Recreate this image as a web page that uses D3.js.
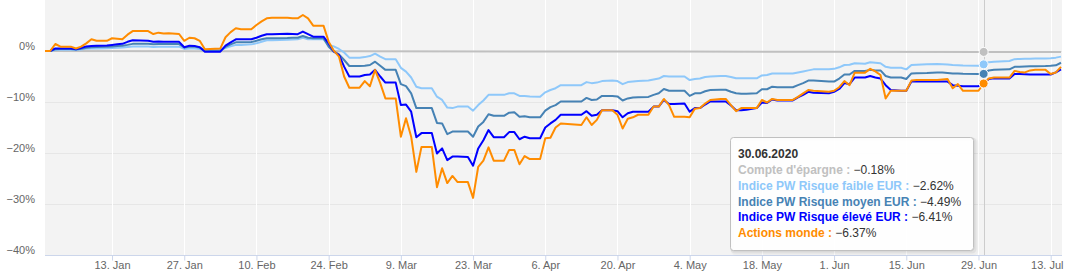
<!DOCTYPE html>
<html>
<head>
<meta charset="utf-8">
<script src="https://cdn.jsdelivr.net/npm/d3@7"></script>
<style>
  body { margin: 0; background: #fff; }
  svg { display: block; font-family: 'Lucida Sans Unicode', 'Lucida Grande', Arial, 'Liberation Sans', sans-serif; }
</style>
</head>
<body>
<svg id="chart" width="1065" height="276"></svg>
<script>
// Dates shared by the four index series (weekends repeat the previous value)
const dates = [
  '2019-12-31', '2020-01-01', '2020-01-02', '2020-01-03', '2020-01-05', '2020-01-06', '2020-01-07', '2020-01-08',
  '2020-01-09', '2020-01-10', '2020-01-12', '2020-01-13', '2020-01-14', '2020-01-15', '2020-01-16', '2020-01-17',
  '2020-01-20', '2020-01-21', '2020-01-22', '2020-01-23', '2020-01-24', '2020-01-26', '2020-01-27', '2020-01-28',
  '2020-01-29', '2020-01-30', '2020-01-31', '2020-02-03', '2020-02-04', '2020-02-05', '2020-02-06', '2020-02-07',
  '2020-02-09', '2020-02-10', '2020-02-11', '2020-02-12', '2020-02-13', '2020-02-16', '2020-02-17', '2020-02-18',
  '2020-02-19', '2020-02-20', '2020-02-21', '2020-02-23', '2020-02-24', '2020-02-25', '2020-02-26', '2020-02-27',
  '2020-02-28', '2020-03-01', '2020-03-02', '2020-03-03', '2020-03-04', '2020-03-05', '2020-03-06', '2020-03-08',
  '2020-03-09', '2020-03-10', '2020-03-11', '2020-03-12', '2020-03-13', '2020-03-15', '2020-03-16', '2020-03-17',
  '2020-03-18', '2020-03-19', '2020-03-20', '2020-03-22', '2020-03-23', '2020-03-24', '2020-03-25', '2020-03-26',
  '2020-03-27', '2020-03-29', '2020-03-30', '2020-03-31', '2020-04-01', '2020-04-02', '2020-04-03', '2020-04-05',
  '2020-04-06', '2020-04-07', '2020-04-08', '2020-04-09', '2020-04-13', '2020-04-14', '2020-04-15', '2020-04-16',
  '2020-04-17', '2020-04-19', '2020-04-20', '2020-04-21', '2020-04-22', '2020-04-23', '2020-04-24', '2020-04-26',
  '2020-04-27', '2020-04-28', '2020-04-29', '2020-04-30', '2020-05-01', '2020-05-03', '2020-05-04', '2020-05-05',
  '2020-05-06', '2020-05-07', '2020-05-08', '2020-05-10', '2020-05-11', '2020-05-12', '2020-05-13', '2020-05-14',
  '2020-05-15', '2020-05-17', '2020-05-18', '2020-05-19', '2020-05-20', '2020-05-21', '2020-05-22', '2020-05-24',
  '2020-05-25', '2020-05-26', '2020-05-27', '2020-05-28', '2020-05-31', '2020-06-01', '2020-06-02', '2020-06-03',
  '2020-06-04', '2020-06-05', '2020-06-07', '2020-06-08', '2020-06-09', '2020-06-10', '2020-06-11', '2020-06-12',
  '2020-06-14', '2020-06-15', '2020-06-16', '2020-06-17', '2020-06-19', '2020-06-21', '2020-06-22', '2020-06-23',
  '2020-06-24', '2020-06-25', '2020-06-26', '2020-06-29', '2020-06-30', '2020-07-01', '2020-07-02', '2020-07-05',
  '2020-07-06', '2020-07-07', '2020-07-08', '2020-07-09', '2020-07-10', '2020-07-12', '2020-07-13', '2020-07-14',
  '2020-07-15'
]

const risqueFaible = [
  0, 0, 0.2, 0.25, 0.25, 0.2, 0.3, 0.45,
  0.5, 0.5, 0.55, 0.6, 0.65, 0.7, 0.8, 0.9,
  0.9, 0.8, 0.85, 0.85, 0.85, 0.85, 0.4, 0.5,
  0.5, 0.4, 0.05, 0.05, 0.6, 0.9, 1.2, 1.2,
  1.3, 1.5, 1.8, 2.1, 2.1, 2.2, 2.25, 2.3,
  2.6, 2.3, 2.3, 2.3, 1.2, 0.9, 0.4, -0.3,
  -1.3, -1.3, -1.2, -1.0, -0.52, -1.1, -1.6, -1.6,
  -3.3, -4.05, -5.2, -7.0, -7.3, -7.3, -8.96, -9.6,
  -11.1, -11.2, -10.9, -10.9, -11.7, -10.6, -9.7, -8.6,
  -8.6, -8.6, -8.3, -8.3, -8.8, -8.8, -8.9, -8.96,
  -8.1, -7.65, -7.3, -6.7, -6.7, -6.1, -6.3, -6.2,
  -5.9, -5.8, -5.9, -6.5, -6.1, -6.0, -5.9, -5.8,
  -5.6, -5.4, -4.9, -5.0, -5.0, -5.0, -5.7, -5.5,
  -5.4, -5.1, -5.0, -4.9, -4.9, -5.1, -5.36, -5.36,
  -5.36, -5.36, -4.8, -4.7, -4.4, -4.4, -4.4, -4.4,
  -4.2, -4.0, -3.8, -3.6, -3.6, -3.5, -3.2, -2.75,
  -2.7, -2.4, -2.5, -2.2, -2.3, -2.4, -3.1, -3.3,
  -3.3, -3.6, -2.75, -2.7, -2.6, -2.55, -2.6, -2.65,
  -2.75, -2.8, -2.85, -2.9, -2.62, -2.2, -2.1, -1.95,
  -1.6, -1.55, -1.5, -1.5, -1.45, -1.45, -1.4, -1.3,
  -1.1
]

const risqueMoyen = [
  0, 0, 0.35, 0.4, 0.4, 0.3, 0.45, 0.65,
  0.75, 0.8, 0.85, 0.9, 1.0, 1.05, 1.2, 1.4,
  1.4, 1.3, 1.35, 1.35, 1.35, 1.35, 0.7, 0.85,
  0.85, 0.7, 0.1, 0.1, 0.8, 1.3, 1.7, 1.7,
  1.75, 2.0, 2.3, 2.5, 2.5, 2.55, 2.6, 2.6,
  2.94, 2.6, 2.5, 2.5, 0.85, -0.13, -0.65, -1.76,
  -2.94, -2.94, -2.9, -2.75, -2.1, -2.9, -3.7, -3.7,
  -6.5, -6.9, -8.3, -11.2, -11.2, -11.2, -14.1, -14.2,
  -16.3, -15.8, -15.8, -15.8, -16.8, -14.8, -13.9, -12.4,
  -12.7, -12.7, -12.1, -12.0, -12.9, -12.8, -13.0, -13.0,
  -11.7, -11.0, -10.6, -9.9, -9.9, -9.2, -9.6, -9.5,
  -8.8, -8.8, -8.9, -9.7, -9.3, -9.1, -9.05, -9.0,
  -8.6, -8.3, -7.45, -7.8, -7.8, -7.8, -8.8, -8.3,
  -8.3, -7.9, -7.65, -7.6, -7.6, -8.0, -8.3, -8.4,
  -8.4, -8.3, -7.5, -7.5, -7.0, -7.1, -7.1, -7.1,
  -6.7, -6.3, -5.8, -5.8, -6.0, -6.0, -5.4, -4.6,
  -4.6, -3.9, -3.9, -3.7, -3.8, -3.8, -4.9, -5.2,
  -5.2, -5.5, -4.4, -4.35, -4.3, -4.2, -4.2, -4.3,
  -4.4, -4.4, -4.45, -4.5, -4.49, -3.8, -3.7, -3.6,
  -3.1, -3.1, -3.05, -3.0, -3.0, -2.95, -2.9, -2.8,
  -2.3
]

const risqueEleve = [
  0, 0, 0.5, 0.5, 0.5, 0.33, 0.6, 0.9,
  1.0, 1.05, 1.1, 1.2, 1.3, 1.4, 1.8, 2.1,
  2.0, 1.8, 1.85, 1.8, 1.8, 1.8, 0.73, 1.05,
  1.0, 0.73, -0.13, -0.13, 1.05, 1.7, 2.3, 2.3,
  2.3, 2.6, 3.0, 3.3, 3.3, 3.4, 3.35, 3.3,
  3.8, 3.3, 2.8, 2.8, 1.5, -0.1, -0.78, -3.07,
  -5.0, -5.0, -4.7, -4.6, -3.7, -5.0, -6.2, -6.2,
  -10.6, -10.5, -11.9, -16.9, -16.1, -16.1, -20.1, -19.1,
  -21.4, -20.7, -20.7, -20.8, -22.5, -19.1, -17.5, -15.5,
  -16.9, -16.9, -15.9, -15.9, -17.3, -16.8, -17.1, -17.1,
  -15.0, -14.2, -13.5, -12.5, -12.5, -11.8, -12.7, -12.5,
  -11.6, -11.6, -11.8, -13.0, -12.2, -11.9, -11.9, -11.9,
  -10.9, -10.9, -9.6, -10.4, -10.4, -10.3, -11.9, -11.2,
  -11.2, -10.5, -9.9, -9.9, -9.9, -10.7, -11.6, -11.6,
  -11.5, -11.2, -10.1, -10.2, -9.5, -9.7, -9.7, -9.7,
  -9.1, -8.6, -8.0, -8.2, -8.3, -8.0, -7.45, -6.3,
  -6.5, -5.2, -5.2, -4.9, -5.2, -5.4, -6.7, -7.65,
  -7.8, -7.8, -6.0, -6.0, -6.0, -6.0, -6.0, -6.0,
  -6.7, -6.8, -6.9, -6.9, -6.41, -5.5, -5.36, -5.4,
  -4.5, -4.5, -4.55, -4.6, -4.6, -4.6, -4.6, -4.2,
  -3.6
]

const actionsMonde = [
  0, 0, 1.37, 0.85, 0.85, 0.5, 0.85, 1.5,
  2.3, 2.0, 2.0, 2.5, 2.4, 2.3, 3.2, 3.9,
  3.9, 3.33, 3.6, 3.45, 3.5, 3.33, 2.0, 2.6,
  2.5, 2.0, 0.33, 0.5, 2.7, 3.7, 4.45, 4.25,
  4.25, 5.1, 5.8, 6.4, 6.5, 6.5, 6.4, 6.4,
  7.06, 6.4, 4.97, 4.97, 1.83, 0.06, -1.1, -5.0,
  -7.2, -7.2, -5.9, -6.9, -3.7, -6.3, -9.3, -9.3,
  -16.8, -13.2, -16.8, -23.7, -18.8, -18.8, -26.7, -23.0,
  -25.9, -24.5, -25.7, -25.7, -28.8, -22.7, -21.5, -18.9,
  -21.5, -21.5, -19.4, -19.4, -22.2, -20.6, -21.2, -21.2,
  -17.1, -17.0, -15.0, -14.2, -14.5, -13.0, -14.5, -13.5,
  -11.6, -11.6, -12.5, -15.2, -13.3, -13.0, -12.5, -12.5,
  -10.9, -10.9, -9.4, -10.6, -12.9, -12.9, -13.0, -11.3,
  -11.2, -10.3, -9.6, -9.4, -9.4, -10.6, -11.8, -11.2,
  -11.2, -11.2, -9.6, -10.1, -9.4, -9.6, -9.6, -9.6,
  -9.0, -8.3, -7.65, -7.8, -8.0, -7.8, -7.1, -5.9,
  -6.7, -4.25, -4.25, -3.5, -4.0, -4.7, -9.3, -7.8,
  -7.8, -7.8, -5.8, -5.7, -5.7, -5.7, -5.6, -5.5,
  -7.3, -6.5, -7.8, -7.8, -6.37, -5.4, -5.2, -5.2,
  -3.9, -4.1, -4.2, -3.8, -3.7, -3.7, -4.5, -4.2,
  -3.1
]

// Savings account, read at a few dates (almost flat)
const compteDates = ['2019-12-31', '2020-02-01', '2020-03-01', '2020-04-01', '2020-05-01', '2020-06-01', '2020-06-30', '2020-07-15']
const compteEpargne = [0, -0.03, -0.06, -0.09, -0.12, -0.15, -0.18, -0.19]

const xTickDates = ['2020-01-13', '2020-01-27', '2020-02-10', '2020-02-24', '2020-03-09', '2020-03-23', '2020-04-06',
  '2020-04-20', '2020-05-04', '2020-05-18', '2020-06-01', '2020-06-15', '2020-06-29', '2020-07-13']
const yTicks = [0, -10, -20, -30, -40]
const hoverDate = '2020-06-30'

const parse = d3.utcParse('%Y-%m-%d')

const seriesList = [
  { name: "Compte d'épargne", color: '#c0c0c0', dates: compteDates, values: compteEpargne },
  { name: 'Indice PW Risque faible EUR', color: '#8ec8fa', dates: dates, values: risqueFaible },
  { name: 'Indice PW Risque moyen EUR', color: '#4682b4', dates: dates, values: risqueMoyen },
  { name: 'Indice PW Risque élevé EUR', color: '#0000ff', dates: dates, values: risqueEleve },
  { name: 'Actions monde', color: '#ff8c00', dates: dates, values: actionsMonde }
]
seriesList.forEach(s => {
  s.points = s.dates.map((d, i) => ({ date: parse(d), value: s.values[i] }))
})

const plotLeft = 45
const plotRight = 1062
const plotTop = 0
const plotBottom = 255

const svg = d3.select('#chart')

const x = d3.scaleUtc()
  .domain([parse(dates[0]), parse(dates[dates.length - 1])])
  .range([plotLeft, 1061])

const y = d3.scaleLinear()
  .domain([-40, 10])
  .range([plotBottom, plotTop])

const fmtPct = v => (v < 0 ? '\u2212' : '') + Math.abs(v) + '%'

// Fond de la zone de tracé
svg.append('rect')
  .attr('x', plotLeft).attr('y', plotTop)
  .attr('width', plotRight - plotLeft).attr('height', plotBottom - plotTop)
  .attr('fill', '#f3f3f3')

// Grilles
svg.append('g')
  .selectAll('line')
  .data(yTicks)
  .join('line')
  .attr('x1', plotLeft).attr('x2', plotRight)
  .attr('y1', d => y(d) + 0.5).attr('y2', d => y(d) + 0.5)
  .attr('stroke', '#e6e6e6')

svg.append('g')
  .selectAll('line')
  .data(xTickDates)
  .join('line')
  .attr('x1', d => Math.round(x(parse(d))) + 0.5).attr('x2', d => Math.round(x(parse(d))) + 0.5)
  .attr('y1', plotTop).attr('y2', plotBottom)
  .attr('stroke', '#ffffff')

// Axe X
const xAxis = svg.append('g')
  .attr('transform', `translate(0,${plotBottom + 0.5})`)
  .call(d3.axisBottom(x)
    .tickValues(xTickDates.map(parse))
    .tickFormat(d3.utcFormat('%-d. %b'))
    .tickSize(5)
    .tickSizeOuter(0))
xAxis.select('.domain').attr('stroke', '#ccd6eb').attr('d', `M${plotLeft},0H${plotRight}`)
xAxis.selectAll('.tick line').attr('stroke', '#ccd6eb')
xAxis.selectAll('.tick text')
  .attr('y', 6)
  .attr('fill', '#666666')
  .style('font-size', '11px')

// le dernier libellé est décalé pour rester dans la zone visible
const lastTick = parse(xTickDates[xTickDates.length - 1])
xAxis.selectAll('.tick')
  .filter(d => +d === +lastTick)
  .select('text')
  .attr('text-anchor', 'end')
  .attr('x', 1063 - x(lastTick))

// Axe Y
const yAxis = svg.append('g')
  .attr('transform', 'translate(35,0)')
  .call(d3.axisLeft(y).tickValues(yTicks).tickFormat(fmtPct).tickSize(0).tickPadding(0))
yAxis.select('.domain').remove()
yAxis.selectAll('.tick text')
  .attr('y', -5.5)
  .attr('fill', '#666666')
  .style('font-size', '11px')

// Crosshair
const hx = Math.round(x(parse(hoverDate))) + 0.5
svg.append('line')
  .attr('x1', hx).attr('x2', hx)
  .attr('y1', plotTop).attr('y2', plotBottom)
  .attr('stroke', '#cccccc')
  .attr('stroke-width', 1)

// Courbes
const line = d3.line()
  .x(d => x(d.date))
  .y(d => y(d.value))

svg.append('g')
  .selectAll('path')
  .data(seriesList)
  .join('path')
  .attr('d', d => line(d.points))
  .attr('fill', 'none')
  .attr('stroke', d => d.color)
  .attr('stroke-width', 2)
  .attr('stroke-linejoin', 'round')

// Valeurs au survol
const hoverValues = seriesList.map(s => {
  const i = s.dates.indexOf(hoverDate)
  return { name: s.name, color: s.color, value: s.values[i] }
})

svg.append('g')
  .selectAll('circle')
  .data(hoverValues)
  .join('circle')
  .attr('cx', x(parse(hoverDate)))
  .attr('cy', d => y(d.value))
  .attr('r', 4.5)
  .attr('fill', d => d.color)
  .attr('stroke', '#ffffff')
  .attr('stroke-width', 1)

// Tooltip
const tipX = 730
const tipY = 137
const tipW = 243
const tipH = 113
const tip = svg.append('g').attr('transform', `translate(${tipX},${tipY})`)

for (let k = 1; k <= 3; k++) {
  tip.append('rect')
    .attr('x', k).attr('y', k)
    .attr('width', tipW).attr('height', tipH)
    .attr('rx', 3)
    .attr('fill', 'none')
    .attr('stroke', '#000')
    .attr('stroke-opacity', 0.05 * (4 - k) / 2)
    .attr('stroke-width', 2 * k - 1)
}
tip.append('rect')
  .attr('x', 0.5).attr('y', 0.5)
  .attr('width', tipW).attr('height', tipH)
  .attr('rx', 3)
  .attr('fill', 'rgba(255,255,255,0.92)')
  .attr('stroke', seriesList[0].color)
  .attr('stroke-width', 1)

tip.append('text')
  .attr('x', 8).attr('y', 21)
  .attr('fill', '#333333')
  .style('font-size', '12px')
  .style('font-weight', 'bold')
  .text(d3.utcFormat('%d.%m.%Y')(parse(hoverDate)))

const rows = tip.selectAll('text.row')
  .data(hoverValues)
  .join('text')
  .attr('class', 'row')
  .attr('x', 8)
  .attr('y', (d, i) => 37 + i * 15.8)
  .style('font-size', '12px')

rows.append('tspan')
  .attr('fill', d => d.color)
  .style('font-weight', 'bold')
  .text(d => d.name + ' : ')
rows.append('tspan')
  .attr('fill', '#333333')
  .text(d => (d.value < 0 ? '\u2212' : '') + Math.abs(d.value).toFixed(2) + '%')
</script>
</body>
</html>
